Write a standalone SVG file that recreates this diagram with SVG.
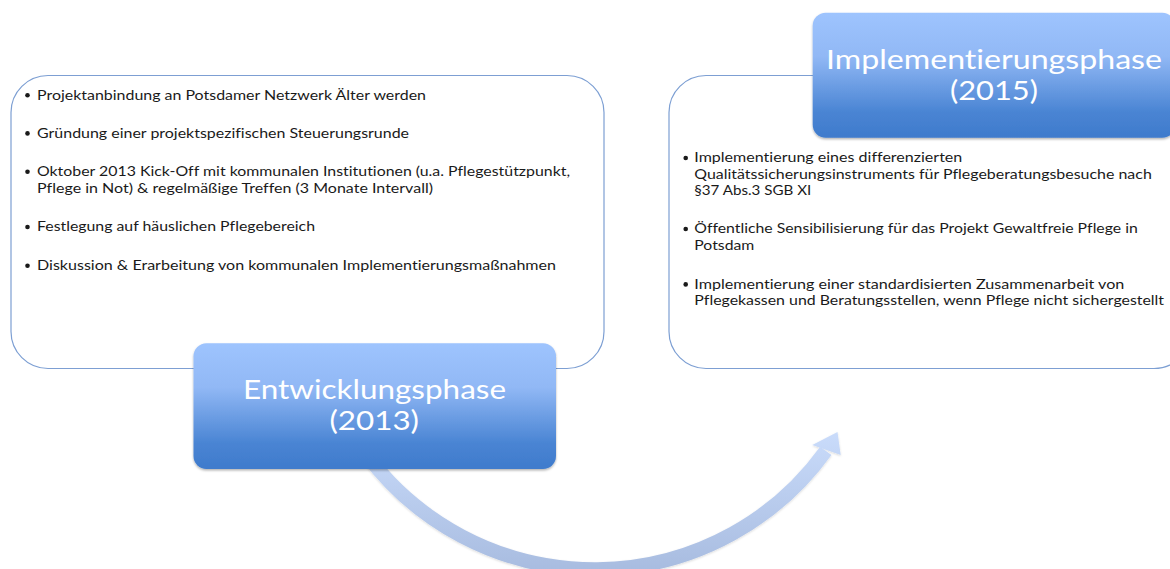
<svg xmlns="http://www.w3.org/2000/svg" width="1170" height="569" viewBox="0 0 1170 569">
<style>
.frame{fill:#ffffff;stroke:#7d9fd3;stroke-width:1.2}
.body{font-family:Lato,"Liberation Sans",sans-serif;font-size:13px;fill:#1a1a1a;font-variant-ligatures:none}
.head{font-family:Lato,"Liberation Sans",sans-serif;fill:#ffffff;font-variant-ligatures:none}
.bullet{fill:#1a1a1a}
.hbox{fill:url(#hgrad);filter:url(#shadow)}
</style>
<defs>
<linearGradient id="hgrad" x1="0" y1="0" x2="0" y2="1">
<stop offset="0" stop-color="#9ec4fe"/>
<stop offset="0.35" stop-color="#91b8f5"/>
<stop offset="0.8" stop-color="#4984d3"/>
<stop offset="1" stop-color="#3f7bcc"/>
</linearGradient>
<linearGradient id="agrad" gradientUnits="userSpaceOnUse" x1="0" y1="430" x2="0" y2="575">
<stop offset="0" stop-color="#cadcfb"/>
<stop offset="1" stop-color="#a7bbdf"/>
</linearGradient>
<filter id="shadow" x="-5%" y="-5%" width="110%" height="115%">
<feDropShadow dx="0" dy="1.5" stdDeviation="1" flood-color="#000" flood-opacity="0.3"/>
</filter>
<filter id="ashadow" x="-5%" y="-5%" width="110%" height="115%">
<feDropShadow dx="0" dy="1" stdDeviation="0.8" flood-color="#000" flood-opacity="0.15"/>
</filter>
</defs>

<g id="node-entwicklung-details">
<rect class="frame" x="11" y="75.5" width="593" height="293" rx="37"/>
<circle class="bullet" cx="27.5" cy="95.2" r="2.3"/>
<text class="body" x="37" y="99.5" textLength="389" lengthAdjust="spacingAndGlyphs">Projektanbindung an Potsdamer Netzwerk Älter werden</text>
<circle class="bullet" cx="27.5" cy="133.4" r="2.3"/>
<text class="body" x="37" y="137.7" textLength="372" lengthAdjust="spacingAndGlyphs">Gründung einer projektspezifischen Steuerungsrunde</text>
<circle class="bullet" cx="27.5" cy="171.7" r="2.3"/>
<text class="body" x="37" y="176" textLength="533" lengthAdjust="spacingAndGlyphs">Oktober 2013 Kick-Off mit kommunalen Institutionen (u.a. Pflegestützpunkt,</text>
<text class="body" x="37" y="192.7" textLength="396" lengthAdjust="spacingAndGlyphs">Pflege in Not) &amp; regelmäßige Treffen (3 Monate Intervall)</text>
<circle class="bullet" cx="27.5" cy="227" r="2.3"/>
<text class="body" x="37" y="231.3" textLength="278" lengthAdjust="spacingAndGlyphs">Festlegung auf häuslichen Pflegebereich</text>
<circle class="bullet" cx="27.5" cy="265.7" r="2.3"/>
<text class="body" x="37" y="270" textLength="519" lengthAdjust="spacingAndGlyphs">Diskussion &amp; Erarbeitung von kommunalen Implementierungsmaßnahmen</text>
</g>

<g id="node-implementierung-details">
<rect class="frame" x="669" y="75.5" width="522" height="293" rx="37"/>
<circle class="bullet" cx="685.7" cy="158" r="2.3"/>
<text class="body" x="694.3" y="162.3" textLength="268" lengthAdjust="spacingAndGlyphs">Implementierung eines differenzierten</text>
<text class="body" x="694.3" y="179" textLength="457.5" lengthAdjust="spacingAndGlyphs">Qualitätssicherungsinstruments für Pflegeberatungsbesuche nach</text>
<text class="body" x="694.3" y="195" textLength="117" lengthAdjust="spacingAndGlyphs">§37 Abs.3 SGB XI</text>
<circle class="bullet" cx="685.7" cy="229" r="2.3"/>
<text class="body" x="694.3" y="233.3" textLength="443.5" lengthAdjust="spacingAndGlyphs">Öffentliche Sensibilisierung für das Projekt Gewaltfreie Pflege in</text>
<text class="body" x="694.3" y="250" textLength="60" lengthAdjust="spacingAndGlyphs">Potsdam</text>
<circle class="bullet" cx="685.7" cy="284.4" r="2.3"/>
<text class="body" x="694.3" y="288.7" textLength="430" lengthAdjust="spacingAndGlyphs">Implementierung einer standardisierten Zusammenarbeit von</text>
<text class="body" x="694.3" y="305" textLength="469.7" lengthAdjust="spacingAndGlyphs">Pflegekassen und Beratungsstellen, wenn Pflege nicht sichergestellt</text>
</g>

<g id="connectors" filter="url(#ashadow)">
<path d="M 366.8 455 A 284.6 284.6 0 0 0 825.8 450.8" fill="none" stroke="url(#agrad)" stroke-width="14"/>
<polygon points="837.5,432 812.3,445 840.7,455" fill="url(#agrad)"/>
</g>

<g id="node-entwicklungsphase">
<rect class="hbox" x="193.5" y="343.3" width="362.5" height="125.7" rx="13"/>
<text class="head" x="243" y="399" font-size="26.5" textLength="263" lengthAdjust="spacingAndGlyphs">Entwicklungsphase</text>
<text class="head" x="329.5" y="430" font-size="26.5" textLength="89.5" lengthAdjust="spacingAndGlyphs">(2013)</text>
</g>

<g id="node-implementierungsphase">
<rect class="hbox" x="812.7" y="12.7" width="362.5" height="125" rx="13"/>
<text class="head" x="826" y="68.5" font-size="27.5" textLength="336" lengthAdjust="spacingAndGlyphs">Implementierungsphase</text>
<text class="head" x="950" y="100" font-size="27.5" textLength="88" lengthAdjust="spacingAndGlyphs">(2015)</text>
</g>
</svg>
